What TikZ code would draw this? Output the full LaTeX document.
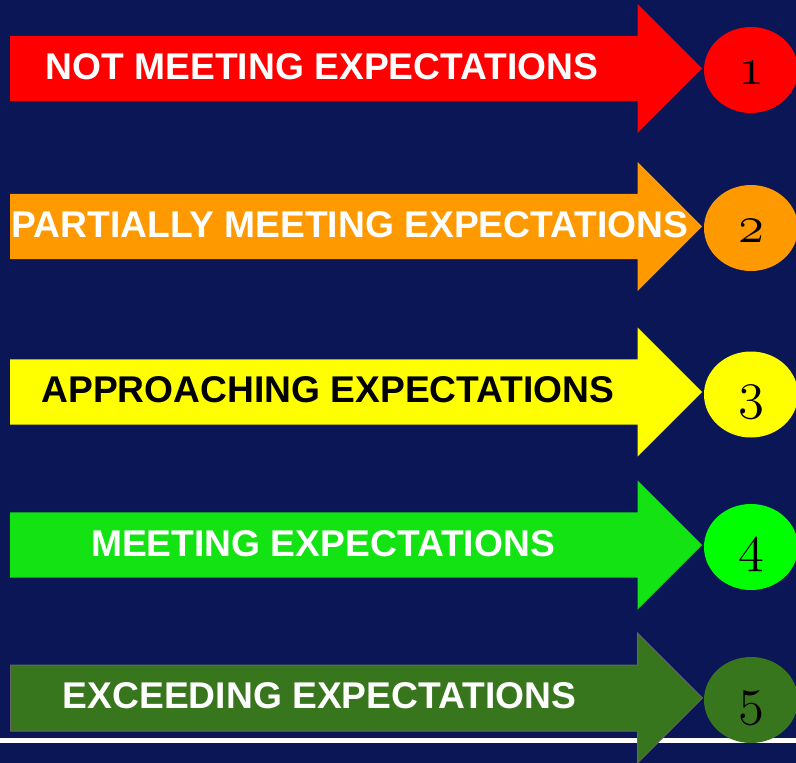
\RequirePackage{fix-cm}
\documentclass[tikz,border=0pt]{standalone}
\usepackage{fontspec}
\setmainfont{Liberation Sans}
\usetikzlibrary{shapes.arrows,shapes.geometric}
\definecolor{navy}{RGB}{10,22,85}
\definecolor{notmet}{RGB}{255,0,0}
\definecolor{partial}{RGB}{255,153,0}
\definecolor{approach}{RGB}{255,255,0}
\definecolor{meeting}{RGB}{19,226,19}
\definecolor{meetdot}{RGB}{0,255,0}
\definecolor{exceed}{RGB}{56,118,29}
\tikzset{
  bar/.style = {single arrow, single arrow tip angle=90,
    single arrow head extend=32pt, single arrow head indent=0pt,
    minimum height=692pt, inner sep=0pt, text height=32.5pt,
    text depth=32.5pt, anchor=tail, draw=none},% fleche de niveau
  grade/.style = {ellipse, minimum width=94pt, minimum height=86pt,
    inner sep=0pt, text height=28pt, text depth=0pt, black,
    font=\fontsize{53}{56}\usefont{OML}{cmm}{m}{it}},% pastille
  caption/.style = {inner sep=0pt, font=\bfseries\fontsize{37.2}{40}\selectfont}% texte
}
\begin{document}
\begin{tikzpicture}[x=1pt,y=-1pt]
\fill[navy] (0,0) rectangle (796,763);
\useasboundingbox (0,0) rectangle (796,763);
\coordinate (rule west) at (0,740);
\coordinate (rule east) at (796,740);
\draw[white, line width=5pt] (rule west) -- (rule east);
% arrows
\node[bar, fill=notmet] (bar1) at (10,68.5) {};
\node[bar, fill=partial] (bar2) at (10,226.5) {};
\node[bar, fill=approach] (bar3) at (10,392) {};
\node[bar, fill=meeting] (bar4) at (10,545) {};
\node[bar, fill=exceed, draw=gray!80!black, line width=1pt] (bar5) at (10,698) {};
% scores
\node[grade, fill=notmet] (score1) at (751,70) {1};
\node[grade, fill=partial] (score2) at (751,228) {2};
\node[grade, fill=approach] (score3) at (751,394.5) {3};
\node[grade, fill=meetdot] (score4) at (751,547) {4};
\node[grade, fill=exceed] (score5) at (751,700) {5};
% labels
\node[caption, white] (label1) at (322,66.5) {NOT MEETING EXPECTATIONS};
\node[caption, white] (label2) at (350,225) {PARTIALLY MEETING EXPECTATIONS};
\node[caption, black] (label3) at (328,390) {APPROACHING EXPECTATIONS};
\node[caption, white] (label4) at (323,544) {MEETING EXPECTATIONS};
\node[caption, white] (label5) at (319.5,696) {EXCEEDING EXPECTATIONS};
\end{tikzpicture}
\end{document}
